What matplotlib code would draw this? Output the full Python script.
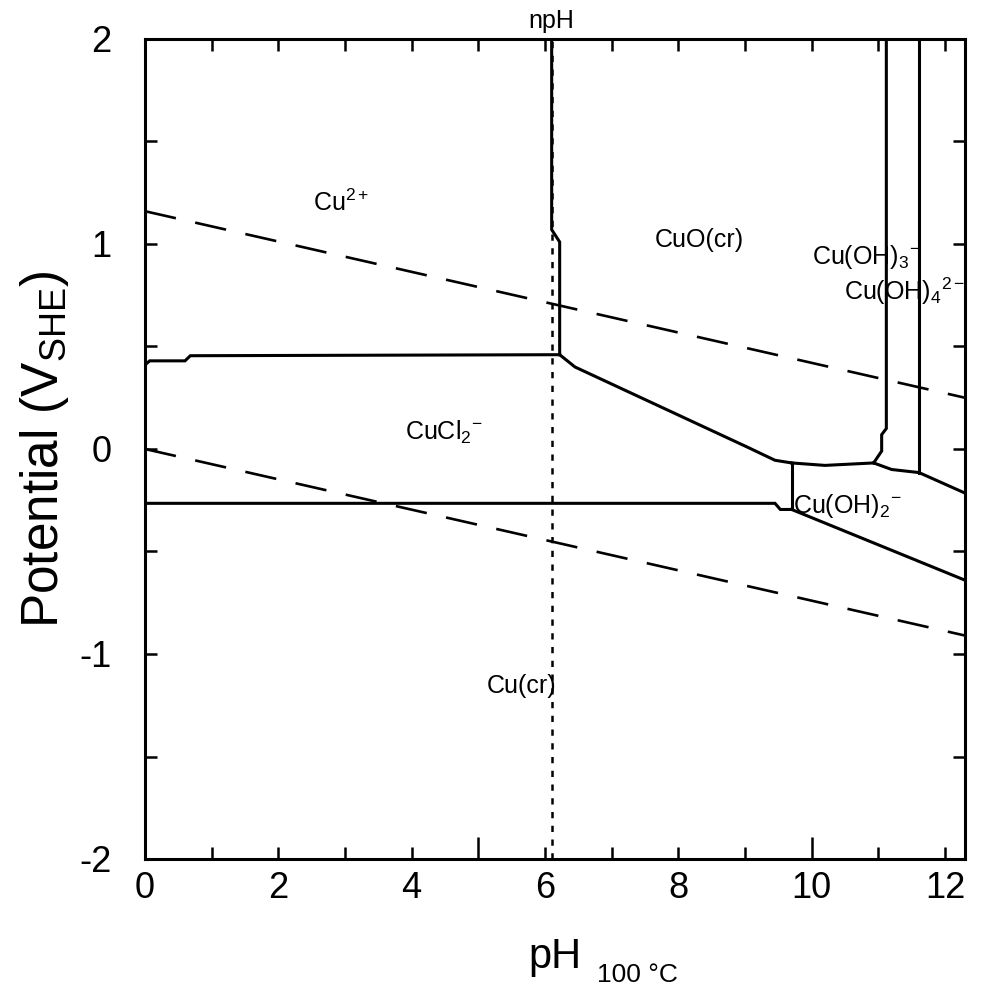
import matplotlib
matplotlib.use("Agg")
import matplotlib.pyplot as plt

# -------------------------------------------------------
# Datos (pH a 100 °C, potencial en V_SHE)
# -------------------------------------------------------

PH_MAX = 12.3

# Lineas de estabilidad del agua
agua_ph = [0.0, PH_MAX]
agua_o2 = [1.16, 0.25]
agua_h2 = [0.0, -0.91]

# npH
NPH = 6.1

# Fronteras entre especies
cu2_cucl2_ph = [0.0, 0.07, 0.6, 0.68, 6.22]
cu2_cucl2_e = [0.41, 0.43, 0.43, 0.455, 0.46]

cu2_cuo_ph = [6.1, 6.1, 6.22, 6.22]
cu2_cuo_e = [2.0, 1.07, 1.01, 0.46]

cuo_cucl2_ph = [6.22, 6.45, 9.03, 9.45, 9.7]
cuo_cucl2_e = [0.46, 0.40, 0.01, -0.055, -0.068]

cuo_cuoh2_ph = [9.7, 10.2, 10.5, 10.93]
cuo_cuoh2_e = [-0.068, -0.08, -0.075, -0.068]

cuoh3_cuoh2_ph = [10.93, 11.2, 11.61]
cuoh3_cuoh2_e = [-0.068, -0.10, -0.115]

cuoh4_cuoh2_ph = [11.61, PH_MAX]
cuoh4_cuoh2_e = [-0.115, -0.215]

cucl2_cu_ph = [0.0, 9.45, 9.53, 9.7]
cucl2_cu_e = [-0.265, -0.265, -0.295, -0.295]

cucl2_cuoh2_ph = [9.7, 9.7]
cucl2_cuoh2_e = [-0.068, -0.295]

cuoh2_cu_ph = [9.7, PH_MAX]
cuoh2_cu_e = [-0.295, -0.64]

cuo_cuoh3_ph = [11.12, 11.12, 11.05, 11.05, 10.93]
cuo_cuoh3_e = [2.0, 0.10, 0.07, -0.01, -0.068]

cuoh3_cuoh4_ph = [11.61, 11.61]
cuoh3_cuoh4_e = [2.0, -0.115]

fronteras = [
    (cu2_cucl2_ph, cu2_cucl2_e),
    (cu2_cuo_ph, cu2_cuo_e),
    (cuo_cucl2_ph, cuo_cucl2_e),
    (cuo_cuoh2_ph, cuo_cuoh2_e),
    (cuoh3_cuoh2_ph, cuoh3_cuoh2_e),
    (cuoh4_cuoh2_ph, cuoh4_cuoh2_e),
    (cucl2_cu_ph, cucl2_cu_e),
    (cucl2_cuoh2_ph, cucl2_cuoh2_e),
    (cuoh2_cu_ph, cuoh2_cu_e),
    (cuo_cuoh3_ph, cuo_cuoh3_e),
    (cuoh3_cuoh4_ph, cuoh3_cuoh4_e),
]

# Etiquetas de especies (texto, pH, E)
especies = [
    (r"Cu$^{2+}$", 2.52, 1.16),
    ("CuO(cr)", 7.65, 0.985),
    (r"Cu(OH)$_3{}^{-}$", 10.0, 0.90),
    (r"Cu(OH)$_4{}^{2-}$", 10.48, 0.727),
    (r"CuCl$_2{}^{-}$", 3.9, 0.044),
    (r"Cu(OH)$_2{}^{-}$", 9.72, -0.31),
    ("Cu(cr)", 5.13, -1.19),
]

# -------------------------------------------------------
# Estilo
# -------------------------------------------------------

plt.rcParams["font.family"] = ["Liberation Sans", "DejaVu Sans"]
plt.rcParams["mathtext.fontset"] = "custom"
plt.rcParams["mathtext.rm"] = "Liberation Sans"
plt.rcParams["mathtext.it"] = "Liberation Sans:italic"
plt.rcParams["mathtext.bf"] = "Liberation Sans:bold"
plt.rcParams["axes.unicode_minus"] = False

fig = plt.figure(figsize=(9.85, 9.91), dpi=100)

ax = fig.add_axes([145/985, 1-859/991, 820/985, 820/991])

# agua
ax.plot(agua_ph, agua_o2, color="black", linewidth=1.9, dashes=(12, 7.5))
ax.plot(agua_ph, agua_h2, color="black", linewidth=1.9, dashes=(12, 7.5))

# npH
ax.plot([NPH, NPH], [-2, 2], color="black", linewidth=1.8, dashes=(2.5, 3))

for ph, e in fronteras:

    ax.plot(ph, e, color="black", linewidth=2.2, solid_joinstyle="miter")

for texto, ph, e in especies:

    ax.text(ph, e, texto, fontsize=18, ha="left", va="baseline")

ax.text(NPH, 2.03, "npH", fontsize=18, ha="center", va="bottom")

ax.set_xlim(0, PH_MAX)
ax.set_ylim(-2, 2)

ax.set_xticks(range(13))
ax.set_xticklabels([str(i) if i % 2 == 0 else "" for i in range(13)])
ax.set_yticks([-2, -1, 0, 1, 2])
ax.set_yticks([-1.5, -0.5, 0.5, 1.5], minor=True)

ax.tick_params(which="both", direction="in", top=True, right=True,
               length=8.5, width=1.8, labelsize=26)
ax.tick_params(axis="x", pad=9)
ax.tick_params(axis="y", pad=24)

for v, t in zip(range(13), ax.xaxis.get_major_ticks()):

    if v in (5, 10):
        t.tick1line.set_markersize(16)

for s in ax.spines.values():
    s.set_linewidth(2.2)

ax.set_xlabel("pH", fontsize=30, labelpad=22)
ax.set_ylabel(r"Potential (V$_{\mathrm{SHE}}$)", fontsize=37, labelpad=6)

fig.text(597/985, 1-982/991, "100 °C", fontsize=19, va="baseline")

plt.savefig("out.png", dpi=100)
plt.close()
